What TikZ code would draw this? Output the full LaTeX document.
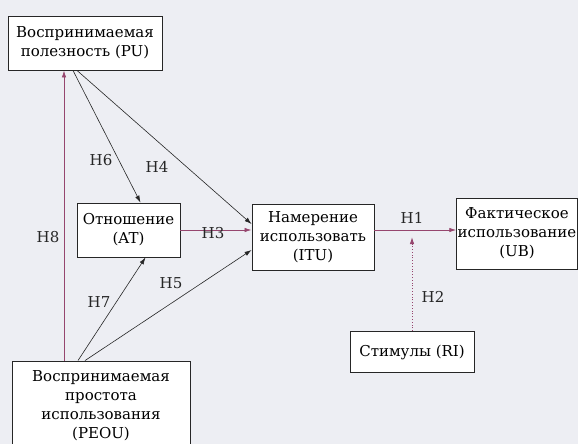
\documentclass[tikz,border=0pt]{standalone}
\usepackage{fontspec}
\setmainfont{DejaVu Serif}
\usetikzlibrary{arrows.meta,positioning,calc}
\definecolor{BG-GREY}{RGB}{237, 238, 243}
\definecolor{HYP-PURPLE}{RGB}{150, 70, 110}

\tikzset{
  box/.style={draw=black!85, fill=white, line width=0.9pt, align=center,
    font=\fontsize{15}{19}\selectfont, inner sep=1pt},
  link/.style={-{Latex[length=7pt,width=4.5pt]}, black!85, line width=0.6pt},
  hyp/.style={-{Latex[length=7pt,width=4.5pt]}, HYP-PURPLE, line width=0.8pt},
  hlabel/.style={font=\fontsize{15}{19}\selectfont, text=black!85}
}

\begin{document}
\begin{tikzpicture}[x=1pt,y=-1pt]
  \fill[BG-GREY] (0,0) rectangle (578,444);
  \useasboundingbox (0,0) rectangle (578,444);

  % Constructs
  \node[box, minimum width=154pt, minimum height=54pt] (PU) at (85,43)
    {Воспринимаемая\\полезность (PU)};
  \node[box, minimum width=103pt, minimum height=54pt] (AT) at (128.5,230)
    {Отношение\\(AT)};
  \node[box, minimum width=122pt, minimum height=66pt] (ITU) at (313,237)
    {Намерение\\использовать\\(ITU)};
  \node[box, minimum width=120pt, minimum height=71pt] (UB) at (517,233.5)
    {Фактическое\\использование\\(UB)};
  \node[box, minimum width=124pt, minimum height=41pt] (RI) at (412,352)
    {Стимулы (RI)};
  \node[box, minimum width=178pt, minimum height=90pt] (PEOU) at (101,406)
    {Воспринимаемая\\простота\\использования\\(PEOU)};

  % Hypotheses from PU
  \draw[link] ([xshift=-12pt]PU.south) -- ([xshift=12pt]AT.north);
  \draw[link] ([xshift=-8pt]PU.south) -- ([yshift=13pt]ITU.west);

  % Hypotheses from PEOU
  \draw[hyp] ([xshift=-37pt]PEOU.north) -- ([xshift=-21pt]PU.south);
  \draw[link] ([xshift=-23pt]PEOU.north) -- ([xshift=17pt]AT.south);
  \draw[link] ([xshift=-16pt]PEOU.north) -- ([yshift=-13pt]ITU.west);

  % AT -> ITU -> UB
  \draw[hyp] (AT.east) -- (AT.east -| ITU.west);
  \draw[hyp] ([yshift=7pt]ITU.east) -- ([yshift=7pt]ITU.east -| UB.west);

  % Moderation by RI
  \coordinate (rimeet) at (412,237);
  \draw[hyp, dotted, line width=0.9pt] (RI.north) -- (rimeet);

  % Labels
  \node[hlabel] (h1) at (412,218) {H1};
  \node[hlabel] (h2) at (433,297) {H2};
  \node[hlabel] (h3) at (213,233) {H3};
  \node[hlabel] (h4) at (157,167) {H4};
  \node[hlabel] (h5) at (171,283) {H5};
  \node[hlabel] (h6) at (101,160) {H6};
  \node[hlabel] (h7) at (99,302) {H7};
  \node[hlabel] (h8) at (48,237) {H8};
\end{tikzpicture}
\end{document}
